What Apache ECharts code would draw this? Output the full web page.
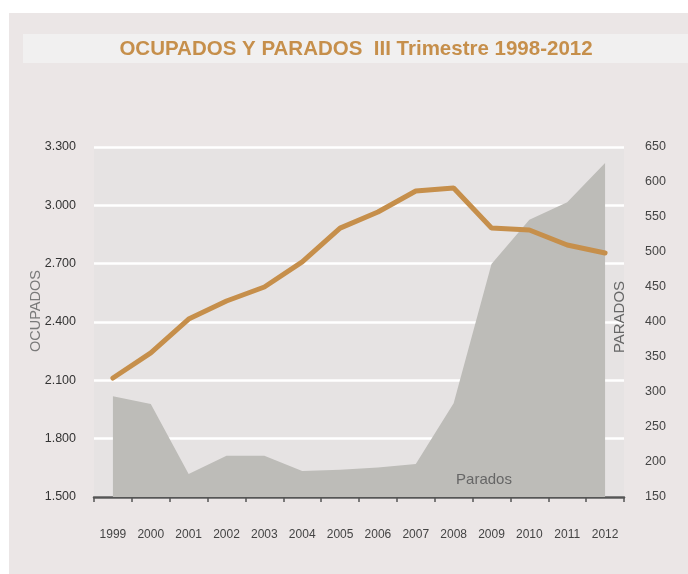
<!DOCTYPE html>
<html>
<head>
<meta charset="utf-8">
<script src="https://cdn.jsdelivr.net/npm/echarts@6/dist/echarts.min.js"></script>
<style>
html,body{margin:0;padding:0;background:#ffffff;}
#chart{width:688px;height:574px;}
</style>
</head>
<body>
<div id="chart"></div>
<script>
var years = ['1999','2000','2001','2002','2003','2004','2005','2006','2007','2008','2009','2010','2011','2012'];
var ocupados = [2112, 2241, 2415, 2508, 2580, 2709, 2883, 2966, 3074, 3089, 2883, 2873, 2796, 2755];
var parados = [294, 283, 183, 209, 209, 187, 189, 192, 197, 284, 483, 546, 571, 627];
var titleText = 'OCUPADOS Y PARADOS  III Trimestre 1998-2012';
var leftName = 'OCUPADOS';
var rightName = 'PARADOS';
var areaLabel = 'Parados';

var regular = '"Liberation Sans", Arial, sans-serif';

var chart = echarts.init(document.getElementById('chart'), null, {renderer: 'canvas'});
chart.setOption({
  backgroundColor: '#ffffff',
  animation: false,
  graphic: [
    {type: 'rect', z: -10, shape: {x: 9, y: 13, width: 679, height: 561}, style: {fill: '#ebe6e6'}},
    {type: 'rect', z: -9, shape: {x: 23, y: 34, width: 665, height: 29}, style: {fill: '#f1f0f0'}},
    {type: 'text', x: 356, y: 49, style: {text: titleText, fill: '#c68f4b', font: 'bold 20.5px ' + regular, textAlign: 'center', textVerticalAlign: 'middle'}},
    {type: 'text', x: 36, y: 311, rotation: Math.PI / 2, style: {text: leftName, fill: '#7a7a7a', font: '14.5px ' + regular, textAlign: 'center', textVerticalAlign: 'middle'}},
    {type: 'text', x: 620, y: 317, rotation: Math.PI / 2, z: 100, style: {text: rightName, fill: '#666666', font: '15px ' + regular, textAlign: 'center', textVerticalAlign: 'middle'}},
    {type: 'text', x: 484, y: 480, z: 100, style: {text: areaLabel, fill: '#666666', font: '15px ' + regular, textAlign: 'center', textVerticalAlign: 'middle'}}
  ],
  grid: {left: 94, right: 64, top: 147, bottom: 77, show: true, backgroundColor: '#e6e3e3', borderWidth: 0},
  xAxis: {
    type: 'category',
    data: years,
    boundaryGap: true,
    axisLine: {show: true, lineStyle: {color: '#555555', width: 2.5}},
    axisTick: {show: true, length: 5, lineStyle: {color: '#555555', width: 1.5}},
    axisLabel: {color: '#444444', fontFamily: regular, fontSize: 12, margin: 32, interval: 0}
  },
  yAxis: [
    {
      type: 'value', min: 1500, max: 3300, interval: 300,
      axisLine: {show: false}, axisTick: {show: false},
      splitLine: {show: true, lineStyle: {color: '#ffffff', width: 2.5}},
      axisLabel: {color: '#333333', fontFamily: regular, fontSize: 12.5, margin: 18,
        formatter: function (v) { return String(v).replace(/\B(?=(\d{3})+(?!\d))/g, '.'); }}
    },
    {
      type: 'value', min: 150, max: 650, interval: 50, position: 'right',
      axisLine: {show: false}, axisTick: {show: false}, splitLine: {show: false},
      axisLabel: {color: '#444444', fontFamily: regular, fontSize: 12.5, margin: 21}
    }
  ],
  series: [
    {
      name: 'Parados', type: 'line', yAxisIndex: 1, data: parados,
      showSymbol: false, symbol: 'none', z: 2,
      lineStyle: {width: 0, color: '#bdbcb8'},
      areaStyle: {color: '#bdbcb8', opacity: 1}
    },
    {
      name: 'Ocupados', type: 'line', yAxisIndex: 0, data: ocupados,
      showSymbol: false, symbol: 'none', z: 3,
      lineStyle: {width: 5, color: '#c68f4b', cap: 'round'}
    }
  ]
});
</script>
</body>
</html>
